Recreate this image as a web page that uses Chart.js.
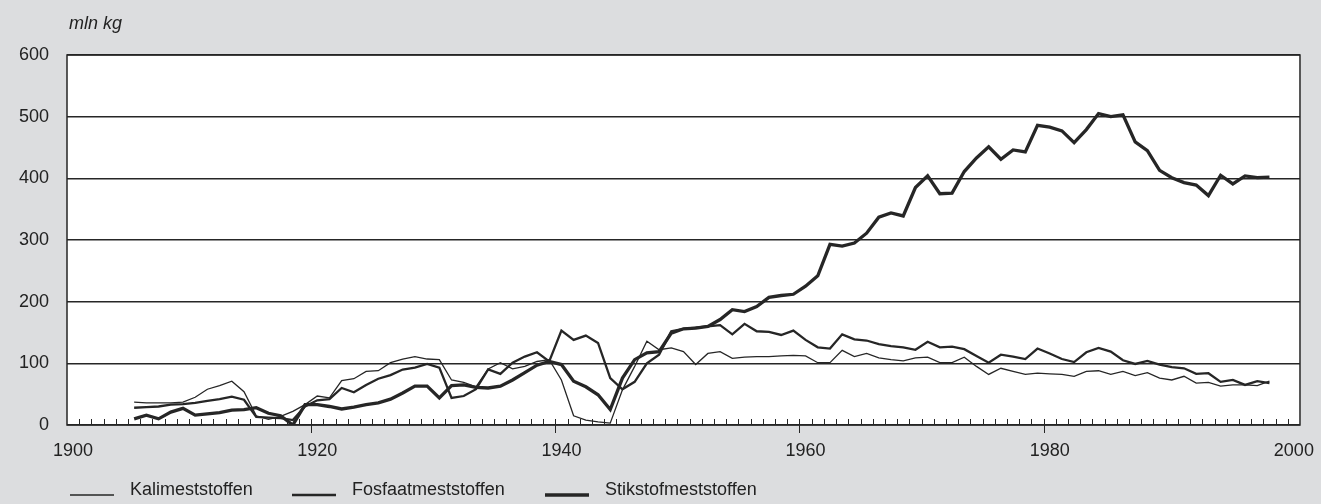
<!DOCTYPE html>
<html>
<head>
<meta charset="utf-8">
<script src="https://cdn.jsdelivr.net/npm/chart.js@4.4.1/dist/chart.umd.min.js"></script>
<style>
  body{margin:0;background:#dcdddf;}
  #wrap{width:1321px;height:504px;position:relative;}
</style>
</head>
<body>
<div id="wrap"><canvas id="grafiek"></canvas></div>
<script>
// jaren 1905 t/m 1998
var jaren = [];
for (var j = 1905; j <= 1998; j++) { jaren.push(j); }

var xLabels = [1900, 1920, 1940, 1960, 1980, 2000];
var yLabels = [0, 100, 200, 300, 400, 500, 600];

var kali = [37,36,36,36,37,45,58,64,71,54, 15,9,14,22,33,47,44,72,75,87,
            88,101,107,111,107,106,73,69,62,91, 101,91,95,103,106,73,15,8,5,3,
            57,95,136,122,125,119,98,116,119,108, 110,111,111,112,113,112,101,101,121,111,
            116,109,106,104,109,110,101,101,110,95, 82,92,87,82,84,83,82,79,87,88,
            82,87,80,85,76,73,79,68,69,63, 65,65,64,71];

var fosfaat = [28,29,30,33,34,36,39,42,46,41, 13,12,11,8,30,40,42,60,53,65,
               75,81,90,93,99,93,44,47,58,90, 83,101,111,118,103,153,138,145,133,76,
               58,70,100,114,152,156,158,160,162,147, 164,152,151,146,153,138,126,124,147,139,
               137,131,128,126,122,135,126,127,123,112, 101,114,111,107,124,116,107,102,118,125,
               119,105,99,104,98,94,92,83,84,70, 73,65,71,68];

var stikstof = [10,16,10,21,27,16,18,20,24,25, 28,19,15,0,33,33,30,26,29,33,
                36,42,52,63,63,44,64,65,61,60, 63,73,85,97,103,98,71,62,49,25,
                76,106,117,119,149,156,157,160,171,187, 184,192,207,210,212,225,242,293,290,295,
                311,337,344,339,385,404,375,376,411,433, 451,431,446,443,486,483,477,458,479,505,
                500,503,459,445,413,401,393,389,372,405, 391,404,401,402];

var namen = ["Kalimeststoffen", "Fosfaatmeststoffen", "Stikstofmeststoffen"];
var dikte = [1, 2, 3];
var lijnKleur = "#262626";
var letter = "'Liberation Sans', Arial, sans-serif";

function punten(reeks){
    return reeks.map(function(v, i){ return {x: jaren[i], y: v}; });
}

// witte plotvlak, rand, kleine streepjes op de x-as, eenheid en legenda
var extraTekenen = {
    id: "extraTekenen",
    beforeDraw: function(chart){
        var ca = chart.chartArea, ctx = chart.ctx;
        ctx.save();
        ctx.fillStyle = "#ffffff";
        ctx.fillRect(ca.left, ca.top, ca.right - ca.left, ca.bottom - ca.top);
        ctx.restore();
    },
    afterDraw: function(chart){
        var ca = chart.chartArea, ctx = chart.ctx;
        var sx = chart.scales.x;
        ctx.save();
        ctx.strokeStyle = lijnKleur;
        ctx.lineWidth = 1.5;
        ctx.strokeRect(ca.left, ca.top, ca.right - ca.left, ca.bottom - ca.top);

        ctx.lineWidth = 1;
        ctx.beginPath();
        for (var g = 1900; g < 2000; g++) {
            var px = Math.round(sx.getPixelForValue(g + 0.5)) + 0.5;
            if ((g + 1) % 20 === 0 && g + 1 < 2000) {
                ctx.moveTo(px, ca.bottom - 6);
                ctx.lineTo(px, ca.bottom + 8);
            } else {
                ctx.moveTo(px, ca.bottom - 6);
                ctx.lineTo(px, ca.bottom);
            }
        }
        ctx.stroke();

        ctx.fillStyle = "#222";
        ctx.font = "italic 18px " + letter;
        ctx.textBaseline = "middle";
        ctx.fillText("mln kg", 69, 24);

        // legenda
        var lx = [70, 292, 545];
        ctx.font = "18px " + letter;
        for (var i = 0; i < namen.length; i++) {
            ctx.beginPath();
            ctx.lineWidth = dikte[i] + 0.5;
            ctx.moveTo(lx[i], 495);
            ctx.lineTo(lx[i] + 44, 495);
            ctx.stroke();
            ctx.fillText(namen[i], lx[i] + 60, 490);
        }
        ctx.restore();
    }
};

var sets = [kali, fosfaat, stikstof].map(function(r, i){
    return {
        label: namen[i],
        data: punten(r),
        borderColor: lijnKleur,
        borderWidth: dikte[i] + 0.3,
        pointRadius: 0,
        tension: 0,
        fill: false
    };
});

var config = {
    type: "line",
    data: { datasets: sets },
    options: {
        responsive: true,
        maintainAspectRatio: false,
        animation: false,
        layout: { padding: { left: 0, right: 21, top: 55, bottom: 0 } },
        plugins: { legend: { display: false }, tooltip: { enabled: false } },
        scales: {
            x: {
                type: "linear",
                min: 1899.5,
                max: 2000.5,
                afterBuildTicks: function(axis){
                    axis.ticks = xLabels.map(function(v){ return {value: v}; });
                },
                afterFit: function(axis){ axis.height = 79; },
                grid: { display: false },
                border: { display: false },
                ticks: {
                    color: "#222",
                    font: { size: 18, family: letter },
                    padding: 7,
                    maxRotation: 0,
                    autoSkip: false,
                    callback: function(v){ return String(v); }
                }
            },
            y: {
                min: 0,
                max: 600,
                afterBuildTicks: function(axis){
                    axis.ticks = yLabels.map(function(v){ return {value: v}; });
                },
                afterFit: function(axis){ axis.width = 67; },
                grid: { color: lijnKleur, lineWidth: 1.5, drawTicks: false },
                border: { display: false },
                ticks: {
                    color: "#222",
                    font: { size: 18, family: letter },
                    padding: 18
                }
            }
        }
    },
    plugins: [extraTekenen]
};

new Chart(document.getElementById("grafiek").getContext("2d"), config);
</script>
</body>
</html>
